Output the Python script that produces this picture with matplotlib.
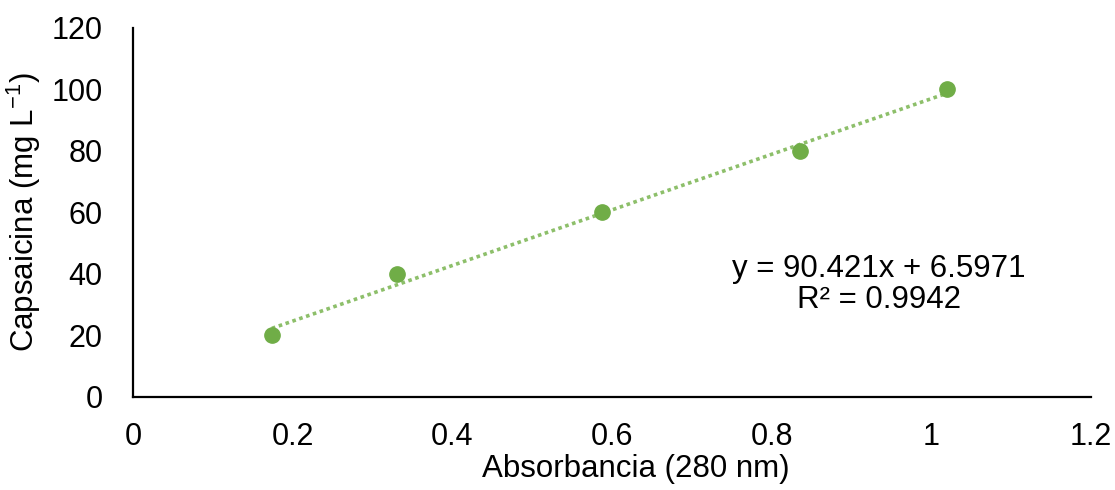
import matplotlib
import matplotlib.pyplot as plt
import numpy as np

matplotlib.use("Agg")

# Calibration points: absorbance at 280 nm vs capsaicin concentration
absorbance = [0.174, 0.331, 0.587, 0.836, 1.019]
capsaicin = [20, 40, 60, 80, 100]

slope = 90.421
intercept = 6.5971
r_squared = 0.9942

x_ticks = [0, 0.2, 0.4, 0.6, 0.8, 1, 1.2]
x_tick_labels = ["0", "0.2", "0.4", "0.6", "0.8", "1", "1.2"]
y_ticks = [0, 20, 40, 60, 80, 100, 120]

GREEN = "#70AD47"

plt.rcParams["font.family"] = ["Liberation Sans", "DejaVu Sans"]

fig = plt.figure(figsize=(11.15, 4.9), dpi=100)
ax = fig.add_axes([0.1193, 0.1898, 0.8592, 0.7531])

fit_x = np.array([min(absorbance), max(absorbance)])
ax.plot(fit_x, slope * fit_x + intercept, linestyle=(0, (1, 1)),
        color="#8DBF6A", linewidth=2.6, zorder=2)
ax.plot(absorbance, capsaicin, linestyle="none", marker="o",
        markersize=11, color=GREEN, zorder=3)

ax.set_xlim(0, 1.2)
ax.set_ylim(0, 120)
ax.set_xticks(x_ticks)
ax.set_xticklabels(x_tick_labels)
ax.set_yticks(y_ticks)
ax.tick_params(axis="both", length=0, labelsize=22)
ax.tick_params(axis="x", pad=18)
ax.tick_params(axis="y", pad=22)

for side in ("top", "right"):
    ax.spines[side].set_visible(False)
for side in ("left", "bottom"):
    ax.spines[side].set_linewidth(1.6)

ax.set_xlabel("Absorbancia (280 nm)", fontsize=22.5)
ax.xaxis.set_label_coords(0.5245, -0.155)
ax.set_ylabel("Capsaicina (mg L$^{\\mathregular{-1}}$)", fontsize=22.5)
ax.yaxis.set_label_coords(-0.094, 0.5)

ax.text(0.934, 36.7, f"y = {slope}x + {intercept}\nR² = {r_squared}",
        ha="center", va="center", fontsize=22.5, linespacing=1.05)

fig.savefig("out.png", dpi=100)
